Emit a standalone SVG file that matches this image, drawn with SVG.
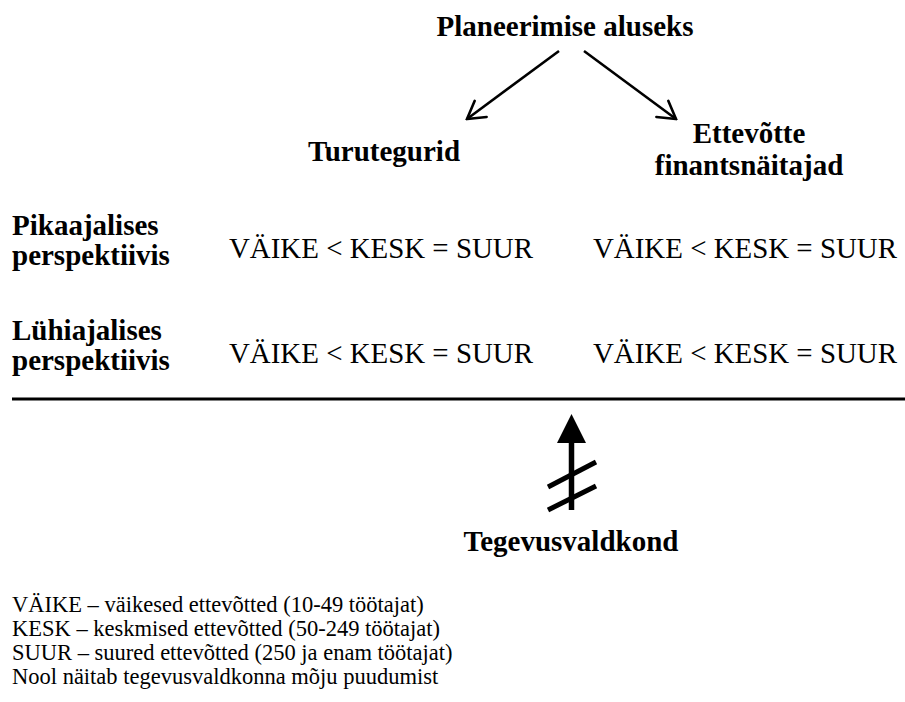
<svg xmlns="http://www.w3.org/2000/svg" width="905" height="702" viewBox="0 0 905 702">
  <style>
    .hd { font-family: "Liberation Serif", "Times New Roman", serif; font-weight: bold; font-size: 29px; fill: #000; }
    .cmp { font-family: "Liberation Serif", "Times New Roman", serif; font-size: 29px; fill: #000; }
    .lg { font-family: "Liberation Serif", "Times New Roman", serif; font-size: 22.5px; fill: #000; }
    .ln { stroke: #000; fill: none; }
  </style>
  <defs>
    <marker id="open" viewBox="-20 -12 22 24" markerWidth="22" markerHeight="24" refX="0" refY="0" markerUnits="userSpaceOnUse" orient="auto">
      <path d="M-17,-10 L0,0 L-17,10" fill="none" stroke="#000" stroke-width="2.6" stroke-linecap="round" stroke-linejoin="miter"/>
    </marker>
  </defs>
  <rect width="905" height="702" fill="#fff"/>

  <g id="planeerimise">
    <text class="hd" x="565" y="36" text-anchor="middle">Planeerimise aluseks</text>
  </g>
  <g id="turutegurid">
    <text class="hd" x="384" y="161" text-anchor="middle">Turutegurid</text>
  </g>
  <g id="finantsnaitajad">
    <text class="hd" x="749" y="143" text-anchor="middle">Ettevõtte</text>
    <text class="hd" x="749" y="175" text-anchor="middle">finantsnäitajad</text>
  </g>

  <g id="pikaajalises">
    <text class="hd" x="12" y="235">Pikaajalises</text>
    <text class="hd" x="12" y="265">perspektiivis</text>
    <text class="cmp" x="229" y="258" textLength="304" lengthAdjust="spacingAndGlyphs">VÄIKE &lt; KESK = SUUR</text>
    <text class="cmp" x="593" y="258" textLength="304" lengthAdjust="spacingAndGlyphs">VÄIKE &lt; KESK = SUUR</text>
  </g>
  <g id="luhiajalises">
    <text class="hd" x="12" y="340">Lühiajalises</text>
    <text class="hd" x="12" y="370">perspektiivis</text>
    <text class="cmp" x="229" y="363" textLength="304" lengthAdjust="spacingAndGlyphs">VÄIKE &lt; KESK = SUUR</text>
    <text class="cmp" x="593" y="363" textLength="304" lengthAdjust="spacingAndGlyphs">VÄIKE &lt; KESK = SUUR</text>
  </g>

  <g id="tegevusvaldkond">
    <text class="hd" x="571" y="551" text-anchor="middle">Tegevusvaldkond</text>
  </g>

  <g id="connectors">
    <line class="ln" x1="559" y1="51" x2="467" y2="119" stroke-width="2.6" marker-end="url(#open)"/>
    <line class="ln" x1="584" y1="51" x2="676" y2="119" stroke-width="2.6" marker-end="url(#open)"/>
    <!-- divider -->
    <line class="ln" x1="12" y1="399" x2="905" y2="399" stroke-width="3"/>
    <!-- crossed-out influence arrow -->
    <line class="ln" x1="571.5" y1="510" x2="571.5" y2="440" stroke-width="5.5"/>
    <polygon points="571.5,414 557,443 586,443" fill="#000"/>
    <line class="ln" x1="548" y1="487" x2="596" y2="462" stroke-width="5"/>
    <line class="ln" x1="548" y1="510" x2="596" y2="486" stroke-width="5"/>
  </g>

  <g id="legend">
    <text class="lg" x="12" y="612">VÄIKE – väikesed ettevõtted (10-49 töötajat)</text>
    <text class="lg" x="12" y="636">KESK – keskmised ettevõtted (50-249 töötajat)</text>
    <text class="lg" x="12" y="660">SUUR – suured ettevõtted (250 ja enam töötajat)</text>
    <text class="lg" x="12" y="684">Nool näitab tegevusvaldkonna mõju puudumist</text>
  </g>
</svg>
